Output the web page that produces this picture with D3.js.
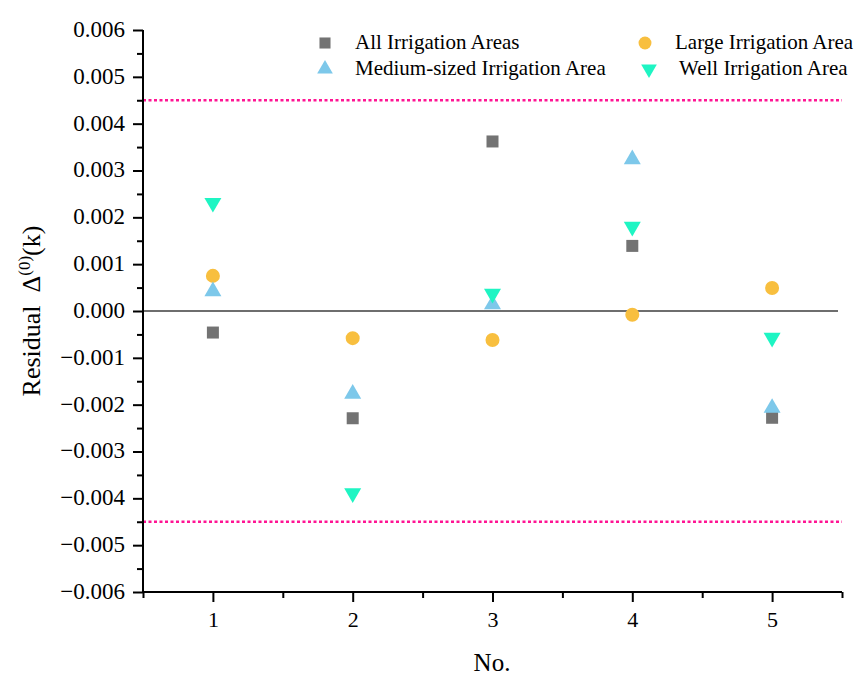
<!DOCTYPE html>
<html><head><meta charset="utf-8">
<script src="https://cdn.jsdelivr.net/npm/d3@7"></script>
<style>body{margin:0;background:#fff}svg{display:block}text{font-family:"Liberation Serif","Times New Roman",serif}</style>
</head><body><svg id="c" width="855" height="675"></svg>
<script>
const categories = [1, 2, 3, 4, 5];
const allAreas    = [-0.00046, -0.00229,  0.00362,  0.00139, -0.00228];
const largeArea   = [ 0.00075, -0.00058, -0.00062, -0.00008,  0.00049];
const mediumArea  = [ 0.00042, -0.00177,  0.00014,  0.00324, -0.00207];
const wellArea    = [ 0.00231, -0.00389,  0.00037,  0.00180, -0.00057];
const yTicks = [-0.006,-0.005,-0.004,-0.003,-0.002,-0.001,0,0.001,0.002,0.003,0.004,0.005,0.006];
const limitLines = [0.0045, -0.0045];
const seriesNames = ["All Irrigation Areas","Large Irrigation Area","Medium-sized Irrigation Area","Well Irrigation Area"];

const svg = d3.select("#c");
const L = 143, R = 842, T = 30, B = 592;
const x = d3.scaleLinear().domain([0.5, 5.5]).range([L, R]);
const y = d3.scaleLinear().domain([-0.006, 0.006]).range([B, T]);

const series = [
  {name: seriesNames[0], vals: allAreas,   sym: d3.symbolSquare,   size: 144, color: "#737373", rot: 0},
  {name: seriesNames[1], vals: largeArea,  sym: d3.symbolCircle,   size: 154, color: "#F8BF3F", rot: 0},
  {name: seriesNames[2], vals: mediumArea, sym: d3.symbolTriangle, size: 125, color: "#7DC8EA", rot: 0},
  {name: seriesNames[3], vals: wellArea,   sym: d3.symbolTriangle, size: 125, color: "#1EF5C3", rot: 180}
];

// limit lines
svg.selectAll(".lim").data(limitLines).enter().append("line")
  .attr("x1", L).attr("x2", R).attr("y1", d => y(d)).attr("y2", d => y(d))
  .attr("stroke", "#FF1493").attr("stroke-width", 2.5).attr("stroke-dasharray", "3,2.5");

// zero line
svg.append("line").attr("x1", L).attr("x2", 838).attr("y1", y(0)).attr("y2", y(0))
  .attr("stroke", "#6e6e6e").attr("stroke-width", 2);

// axes
const fmt = d3.format(".3f");
const yAxis = d3.axisLeft(y).tickValues(yTicks).tickFormat(fmt).tickSize(10).tickPadding(8);
const gy = svg.append("g").attr("transform", `translate(${L},0)`).call(yAxis);
const yMinor = d3.axisLeft(y).tickValues(d3.range(-0.0055, 0.006, 0.001)).tickFormat("").tickSize(6);
svg.append("g").attr("transform", `translate(${L},0)`).call(yMinor).select(".domain").remove();

const xAxis = d3.axisBottom(x).tickValues(categories).tickFormat(d3.format("d")).tickSize(10).tickPadding(9);
const gx = svg.append("g").attr("transform", `translate(0,${B})`).call(xAxis);
const xMinor = d3.axisBottom(x).tickValues([0.5,1.5,2.5,3.5,4.5,5.5]).tickFormat("").tickSize(6);
svg.append("g").attr("transform", `translate(0,${B})`).call(xMinor).select(".domain").remove();

svg.selectAll(".domain").attr("stroke", "#000").attr("stroke-width", 2);
svg.selectAll(".tick line").attr("stroke", "#000").attr("stroke-width", 2);
gy.selectAll(".domain").attr("d", `M0,${B}V${T}`);
gx.selectAll(".domain").attr("d", `M${L},0H${R}`);
svg.selectAll(".tick text").attr("font-size", 23).attr("fill", "#000")
  .style("font-family", '"Liberation Serif", serif');
gy.selectAll(".tick text").attr("dy", "0.28em");
gx.selectAll(".tick text").attr("font-size", 22);

// points
series.forEach(s => {
  const g = svg.append("g");
  g.selectAll("path").data(s.vals.map((v, i) => [categories[i], v])).enter().append("path")
    .attr("d", d3.symbol().type(s.sym).size(s.size))
    .attr("transform", d => `translate(${x(d[0])},${y(d[1])}) rotate(${s.rot})`)
    .attr("fill", s.color);
});

// legend
const legPos = [[325, 43], [645, 43], [325, 69], [649, 69]];
const legTxt = [355, 675, 355, 679];
series.forEach((s, i) => {
  svg.append("path").attr("d", d3.symbol().type(s.sym).size(s.size * 0.85))
    .attr("transform", `translate(${legPos[i][0]},${legPos[i][1]}) rotate(${s.rot})`)
    .attr("fill", s.color);
  svg.append("text").attr("x", legTxt[i]).attr("y", legPos[i][1] + 6)
    .attr("font-size", 21).attr("fill", "#000").text(s.name);
});

// axis titles
svg.append("text").attr("x", 492).attr("y", 671).attr("text-anchor", "middle")
  .attr("font-size", 25).text("No.");
const yt = svg.append("text").attr("transform", `translate(40,${(T + B) / 2}) rotate(-90)`)
  .attr("text-anchor", "middle").attr("font-size", 26);
yt.append("tspan").text("Residual\u00a0\u00a0Δ");
yt.append("tspan").attr("dy", -10).attr("font-size", 17).text("(0)");
yt.append("tspan").attr("dy", 10).text("(k)");
</script></body></html>
